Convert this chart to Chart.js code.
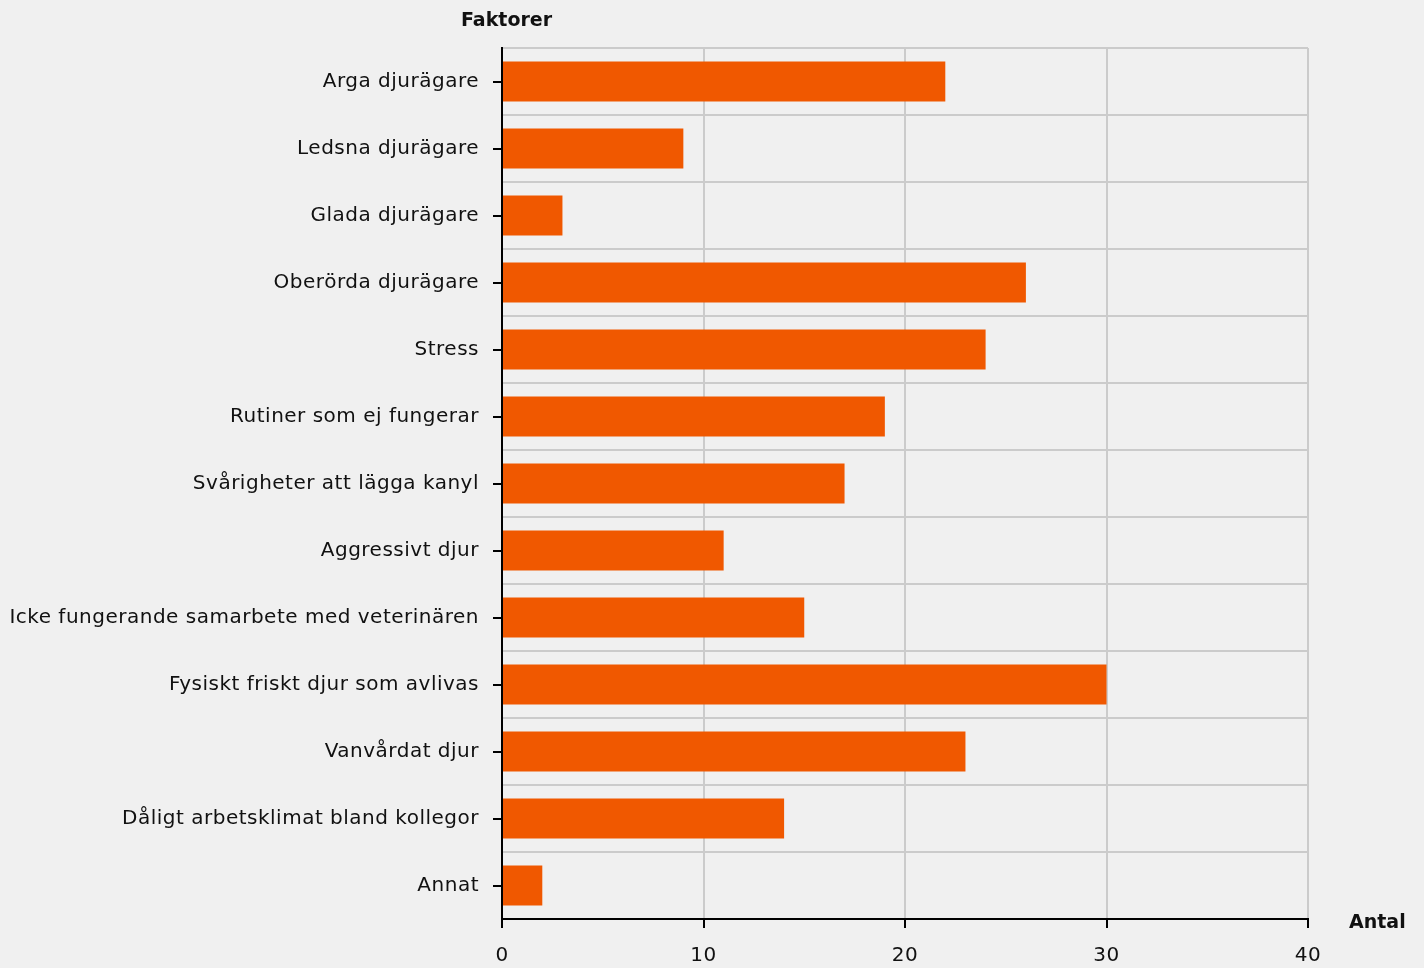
<!DOCTYPE html>
<html>
<head>
<meta charset="utf-8">
<script src="https://cdn.jsdelivr.net/npm/chart.js"></script>
<style>
  html, body { margin: 0; padding: 0; background: #f0f0f0; }
  #wrap { width: 1424px; height: 968px; }
</style>
</head>
<body>
<div id="wrap"><canvas id="myChart" width="1424" height="968"></canvas></div>
<script>
const categories = [
  "Arga djurägare",
  "Ledsna djurägare",
  "Glada djurägare",
  "Oberörda djurägare",
  "Stress",
  "Rutiner som ej fungerar",
  "Svårigheter att lägga kanyl",
  "Aggressivt djur",
  "Icke fungerande samarbete med veterinären",
  "Fysiskt friskt djur som avlivas",
  "Vanvårdat djur",
  "Dåligt arbetsklimat bland kollegor",
  "Annat",
];
const values = [22, 9, 3, 26, 24, 19, 17, 11, 15, 30, 23, 14, 2];
const xTicks = [0, 10, 20, 30, 40];
const yTitle = "Faktorer";
const xTitle = "Antal";

const FONT = "'DejaVu Sans', Verdana, sans-serif";

// slightly wider text like the original
const spacing = {
  id: "spacing",
  beforeDraw(chart) {
    chart.ctx.letterSpacing = "0.5px";
  },
};

// tick marks at the category centres + axis titles
const extras = {
  id: "extras",
  afterDraw(chart) {
    const ctx = chart.ctx;
    const y = chart.scales.y;
    const x = chart.scales.x;
    ctx.save();
    ctx.strokeStyle = "#000";
    ctx.lineWidth = 2;
    categories.forEach((c, i) => {
      const py = Math.round(y.getPixelForValue(i));
      ctx.beginPath();
      ctx.moveTo(x.left - 9, py);
      ctx.lineTo(x.left, py);
      ctx.stroke();
    });
    ctx.fillStyle = "#111";
    ctx.letterSpacing = "0px";
    ctx.font = "bold 19px " + FONT;
    ctx.textBaseline = "middle";
    ctx.textAlign = "left";
    ctx.fillText(yTitle, 461, 21);
    ctx.fillText(xTitle, 1349, 923);
    ctx.restore();
  },
};

const ctx = document.getElementById("myChart").getContext("2d");
new Chart(ctx, {
  type: "bar",
  data: {
    labels: categories,
    datasets: [
      {
        data: values,
        backgroundColor: "#f05800",
        borderWidth: 0,
        barPercentage: 0.6,
        categoryPercentage: 1,
      },
    ],
  },
  plugins: [spacing, extras],
  options: {
    indexAxis: "y",
    responsive: false,
    animation: false,
    layout: { padding: { left: 0, right: 116, top: 48, bottom: 0 } },
    plugins: {
      legend: { display: false },
      tooltip: { enabled: false },
    },
    scales: {
      x: {
        min: 0,
        max: 40,
        afterBuildTicks: (scale) => {
          scale.ticks = xTicks.map((v) => ({ value: v }));
        },
        afterFit: (scale) => {
          scale.height = 49;
        },
        border: { color: "#000", width: 2 },
        grid: {
          color: "#cbcbcb",
          lineWidth: 2,
          tickColor: "#000",
          tickWidth: 2,
          tickLength: 9,
        },
        ticks: {
          color: "#111",
          padding: 16,
          font: { family: FONT, size: 20 },
        },
      },
      y: {
        afterFit: (scale) => {
          scale.width = 502;
        },
        border: { color: "#000", width: 2 },
        grid: {
          offset: true,
          color: "#cbcbcb",
          lineWidth: 2,
          drawTicks: false,
        },
        ticks: {
          color: "#111",
          padding: 23,
          font: { family: FONT, size: 20 },
        },
      },
    },
  },
});
</script>
</body>
</html>
